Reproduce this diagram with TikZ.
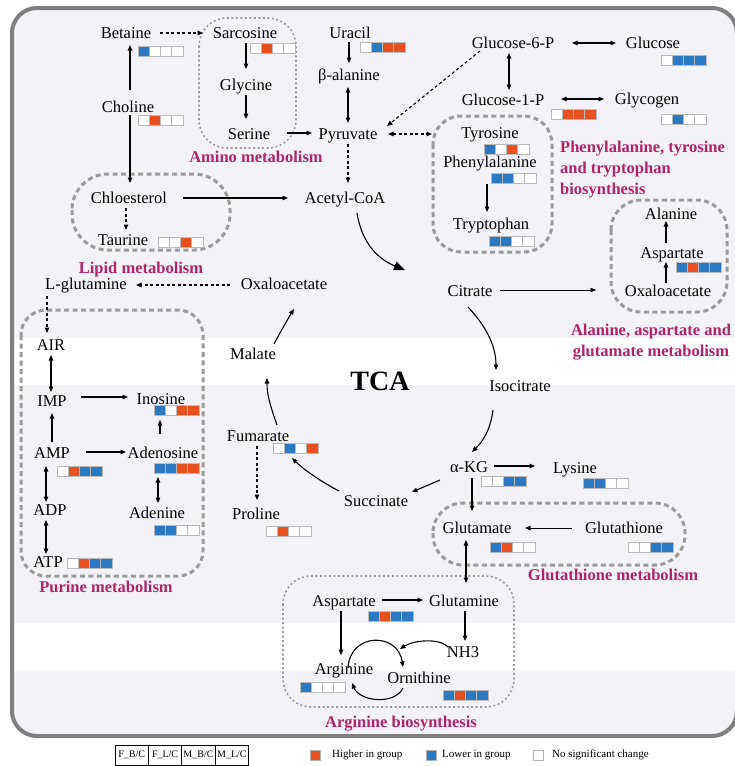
\documentclass[tikz,border=0pt]{standalone}
\usepackage{fontspec}
\setmainfont{Liberation Serif}
\usetikzlibrary{arrows.meta}
\definecolor{cR}{HTML}{E8501F}
\definecolor{cB}{HTML}{2B79C2}
\definecolor{cW}{HTML}{FFFFFF}
\definecolor{bgc}{HTML}{F3F3F7}
\definecolor{framec}{HTML}{7F7F7F}
\definecolor{boxc}{HTML}{9A9A9A}
\definecolor{labc}{HTML}{B0236A}
\newcommand\metbar[5]{%
\begin{scope}[shift={(#1)}]
\filldraw[sq,fill=#2](0,0) rectangle (11.25,10);
\filldraw[sq,fill=#3](11.25,0) rectangle (22.5,10);
\filldraw[sq,fill=#4](22.5,0) rectangle (33.75,10);
\filldraw[sq,fill=#5](33.75,0) rectangle (45,10);
\end{scope}}
\tikzset{
 met/.style={font=\fontsize{16.5}{18}\selectfont, inner sep=1pt, text height=11pt, text depth=3.5pt, anchor=base},
 lab/.style={font=\bfseries\fontsize{16.5}{21}\selectfont, text=labc, inner sep=0pt},
 arr/.style={line width=1.1pt, -{Triangle[length=5.5pt,width=4.5pt]}},
 darr/.style={arr, dash pattern=on 3pt off 2.5pt},
 dbl/.style={line width=1.1pt, {Triangle[length=5.5pt,width=4.5pt]}-{Triangle[length=5.5pt,width=4.5pt]}},
 grpthick/.style={draw=boxc, line width=3pt, dash pattern=on 5pt off 3.5pt, rounded corners=28pt},
 grpthin/.style={draw=boxc, line width=1.6pt, dash pattern=on 2pt off 2.5pt, rounded corners=28pt},
 sq/.style={draw=gray!55, line width=0.6pt},
 legbox/.style={draw, line width=0.8pt, minimum width=33.4pt, minimum height=20pt, inner sep=0pt, font=\fontsize{10}{12}\selectfont},
 legsq/.style={draw=gray!60, line width=0.5pt, minimum size=10pt, inner sep=0pt},
 legtxt/.style={anchor=west, inner sep=0pt, font=\fontsize{11}{13}\selectfont},
}
\begin{document}
\begin{tikzpicture}[x=1pt,y=-1pt]
\useasboundingbox (0,0) rectangle (735,766);
\fill[white] (0,0) rectangle (735,766);
\fill[bgc, rounded corners=25pt] (12,8) rectangle (737,736);
\fill[white] (14,338) rectangle (737,385);
\fill[white] (14,623) rectangle (737,671);
\draw[framec, line width=4pt, rounded corners=25pt] (12,8) rectangle (737,736);

% group boxes
\draw[grpthin] (199,18) rectangle (296,148);
\draw[grpthick, rounded corners=36pt] (72,174) rectangle (230,250);
\draw[grpthick] (433,116) rectangle (552,252);
\draw[grpthick, rounded corners=30pt] (611,200) rectangle (727,312);
\draw[grpthick, rounded corners=25pt] (21,310) rectangle (203,576);
\draw[grpthick, rounded corners=30pt] (433,503) rectangle (685,565);
\draw[grpthin] (283,576) rectangle (514,707);

% metabolite nodes
\node[met] (betaine) at (126,38) {Betaine};
\node[met] (sarcosine) at (245,38) {Sarcosine};
\node[met] (uracil) at (350,38) {Uracil};
\node[met] (g6p) at (513,48) {Glucose-6-P};
\node[met] (glucose) at (653,48) {Glucose};
\node[met] (choline) at (128,112) {Choline};
\node[met] (glycine) at (246,90) {Glycine};
\node[met] (balanine) at (349,80) {β-alanine};
\node[met] (g1p) at (503,105) {Glucose-1-P};
\node[met] (glycogen) at (647,104) {Glycogen};
\node[met] (serine) at (249,139) {Serine};
\node[met] (pyruvate) at (348,139) {Pyruvate};
\node[met] (tyrosine) at (490,138) {Tyrosine};
\node[met] (phenyl) at (490,167) {Phenylalanine};
\node[met] (chol) at (129,203) {Chloesterol};
\node[met] (acetyl) at (345,203) {Acetyl-CoA};
\node[met] (alanine) at (671,219) {Alanine};
\node[met] (trypto) at (491,229) {Tryptophan};
\node[met] (taurine) at (123,245) {Taurine};
\node[met] (aspR) at (672,258) {Aspartate};
\node[met] (lglut) at (86,289) {L-glutamine};
\node[met] (oxaL) at (284,289) {Oxaloacetate};
\node[met] (citrate) at (470,296) {Citrate};
\node[met] (oxaR) at (668,296) {Oxaloacetate};
\node[met] (air) at (51,350) {AIR};
\node[met] (malate) at (253,359) {Malate};
\node[met] (iso) at (520,391) {Isocitrate};
\node[met] (imp) at (52,406) {IMP};
\node[met] (inosine) at (161,404) {Inosine};
\node[met] (fum) at (258,441) {Fumarate};
\node[met] (amp) at (52,458) {AMP};
\node[met] (adenosine) at (163,458) {Adenosine};
\node[met] (akg) at (469,472) {α-KG};
\node[met] (lysine) at (575,473) {Lysine};
\node[met] (succ) at (376,506) {Succinate};
\node[met] (adp) at (50,515) {ADP};
\node[met] (adenine) at (157,518) {Adenine};
\node[met] (proline) at (256,519) {Proline};
\node[met] (glutamate) at (477,533) {Glutamate};
\node[met] (glutathione) at (624,533) {Glutathione};
\node[met] (atp) at (48,567) {ATP};
\node[met] (aspB) at (344,606) {Aspartate};
\node[met] (glutamine) at (464,606) {Glutamine};
\node[met] (nh3) at (463,657) {NH3};
\node[met] (arginine) at (344,674) {Arginine};
\node[met] (ornithine) at (419,683) {Ornithine};
\node[font=\bfseries\fontsize{28}{30}\selectfont, anchor=base, inner sep=0pt] (tca) at (380,390) {TCA};

% group labels
\node[lab, anchor=base] (lamino) at (256,162) {Amino metabolism};
\node[lab, anchor=base] (llipid) at (141,273) {Lipid metabolism};
\node[lab, anchor=west, align=left] (lphe) at (560,170) {Phenylalanine, tyrosine\\and tryptophan\\biosynthesis};
\node[lab, align=center] (lala) at (651,342) {Alanine, aspartate and\\glutamate metabolism};
\node[lab, anchor=base] (lpur) at (106,592) {Purine metabolism};
\node[lab, anchor=base] (lgsh) at (613,580) {Glutathione metabolism};
\node[lab, anchor=base] (larg) at (401,727) {Arginine biosynthesis};

% straight connectors
\draw[darr] ([shift={(34,-5)}]betaine.base) -- ([shift={(-42,-5)}]sarcosine.base);
\draw[arr] ([shift={(2,-22)}]choline.base) -- ([shift={(4,7)}]betaine.base);
\draw[arr] ([shift={(2,3)}]choline.base) -- ([shift={(1,-20)}]chol.base);
\draw[arr] ([shift={(1,5)}]sarcosine.base) -- ([shift={(0,-21)}]glycine.base);
\draw[arr] ([shift={(0,5)}]glycine.base) -- ([shift={(-3,-20)}]serine.base);
\draw[arr] ([shift={(38,-6)}]serine.base) -- ([shift={(-36,-6)}]pyruvate.base);
\draw[arr] ([shift={(-1,4)}]uracil.base) -- ([shift={(0,-17)}]balanine.base);
\draw[dbl] ([shift={(-1,7)}]balanine.base) -- ([shift={(0,-16)}]pyruvate.base);
\draw[darr] ([shift={(0,5)}]pyruvate.base) -- ([shift={(3,-20)}]acetyl.base);
\draw[arr] ([shift={(54,-5)}]chol.base) -- ([shift={(-57,-5)}]acetyl.base);
\draw[darr] ([shift={(-3,5)}]chol.base) -- ([shift={(3,-15)}]taurine.base);
\draw[darr] ([shift={(-54,-4)}]oxaL.base) -- ([shift={(50,-4)}]lglut.base);
\draw[darr] ([shift={(-39,7)}]lglut.base) -- ([shift={(-4,-17)}]air.base);
\draw[dbl] ([shift={(0,5)}]air.base) -- ([shift={(-1,-14)}]imp.base);
\draw[arr] ([shift={(29,-9)}]imp.base) -- ([shift={(-33,-7)}]inosine.base);
\draw[arr] ([shift={(0,-16)}]amp.base) -- ([shift={(0,7)}]imp.base);
\draw[arr] ([shift={(34,-6)}]amp.base) -- ([shift={(-37,-6)}]adenosine.base);
\draw[arr] ([shift={(-3,-24)}]adenosine.base) -- ([shift={(-1,16)}]inosine.base);
\draw[dbl] ([shift={(-5,19)}]adenosine.base) -- ([shift={(1,-15)}]adenine.base);
\draw[dbl] ([shift={(-6,8)}]amp.base) -- ([shift={(-4,-13)}]adp.base);
\draw[dbl] ([shift={(-4,5)}]adp.base) -- ([shift={(-2,-13)}]atp.base);
\draw[darr] ([shift={(-1,5)}]fum.base) -- ([shift={(1,-19)}]proline.base);
\draw[arr, line width=0.5pt] ([shift={(30,-6)}]citrate.base) -- ([shift={(-72,-6)}]oxaR.base);
\draw[arr] ([shift={(-2,-13)}]oxaR.base) -- ([shift={(-6,4)}]aspR.base);
\draw[arr] ([shift={(-6,-15)}]aspR.base) -- ([shift={(-5,2)}]alanine.base);
\draw[dbl] ([shift={(59,-5)}]g6p.base) -- ([shift={(-37,-5)}]glucose.base);
\draw[dbl] ([shift={(-4,5)}]g6p.base) -- ([shift={(6,-15)}]g1p.base);
\draw[dbl] ([shift={(58,-6)}]g1p.base) -- ([shift={(-43,-5)}]glycogen.base);
\draw[darr] ([shift={(-33,3)}]g6p.base) -- ([shift={(39,-13)}]pyruvate.base);
\draw[dbl, dash pattern=on 3pt off 2.5pt] ([shift={(40,-5)}]pyruvate.base) -- ([shift={(-58,-4)}]tyrosine.base);
\draw[arr] ([shift={(-3,17)}]phenyl.base) -- ([shift={(-4,-17)}]trypto.base);
\draw[arr] ([shift={(25,-6)}]akg.base) -- ([shift={(-40,-7)}]lysine.base);
\draw[arr] ([shift={(3,6)}]akg.base) -- ([shift={(-5,-22)}]glutamate.base);
\draw[arr, line width=0.8pt] ([shift={(-52,-5)}]glutathione.base) -- ([shift={(48,-5)}]glutamate.base);
\draw[dbl] ([shift={(-11,7)}]glutamate.base) -- ([shift={(2,-23)}]glutamine.base);
\draw[arr] ([shift={(38,-6)}]aspB.base) -- ([shift={(-41,-6)}]glutamine.base);
\draw[arr] ([shift={(-3,5)}]aspB.base) -- ([shift={(-3,-19)}]arginine.base);
\draw[arr] ([shift={(1,5)}]glutamine.base) -- ([shift={(2,-16)}]nh3.base);

% TCA cycle curves
\draw[line width=1.1pt, -{Triangle[length=11pt,width=9pt]}] ([shift={(12,10)}]acetyl.base) .. controls +(5,32) and +(-25,-10) .. ([shift={(-65,-26)}]citrate.base);
\draw[arr] ([shift={(-2,11)}]citrate.base) .. controls +(17,18) and +(0,-25) .. ([shift={(-24,-21)}]iso.base);
\draw[arr] ([shift={(-27,19)}]iso.base) .. controls +(-3,22) and +(10,-10) .. ([shift={(3,-20)}]akg.base);
\draw[arr] ([shift={(-29,8)}]akg.base) -- ([shift={(36,-14)}]succ.base);
\draw[arr] ([shift={(-37,-15)}]succ.base) .. controls +(-21,-11) and +(10,10) .. ([shift={(34,17)}]fum.base);
\draw[arr] ([shift={(19,-16)}]fum.base) .. controls +(-7,-20) and +(0,17) .. ([shift={(14,19)}]malate.base);
\draw[arr] ([shift={(21,-15)}]malate.base) .. controls +(8,-15) and +(-5,8) .. ([shift={(10,20)}]oxaL.base);

% arginine / ornithine cycle
\draw[arr] ([shift={(-15,-10)}]nh3.base) .. controls +(-10,-10) and +(12,-8) .. ([shift={(-19,-34)}]ornithine.base);
\draw[arr] ([shift={(4,-6)}]arginine.base) .. controls +(2,-36) and +(-5,-35) .. ([shift={(-16,-16)}]ornithine.base);
\draw[arr] ([shift={(-16,5)}]ornithine.base) .. controls +(-8,17) and +(8,19) .. ([shift={(8,9)}]arginine.base);

% change bars
\metbar{138,46}{cB}{cW}{cW}{cW}
\metbar{250,43}{cW}{cR}{cW}{cW}
\metbar{360,42}{cW}{cB}{cR}{cR}
\metbar{661,55}{cW}{cB}{cB}{cB}
\metbar{138,115}{cW}{cR}{cW}{cW}
\metbar{551,109}{cW}{cR}{cR}{cR}
\metbar{661,114}{cW}{cB}{cW}{cW}
\metbar{484,144}{cB}{cW}{cR}{cW}
\metbar{491,173}{cB}{cB}{cW}{cW}
\metbar{158,237}{cW}{cW}{cR}{cW}
\metbar{489,236}{cB}{cB}{cW}{cW}
\metbar{676,262}{cB}{cR}{cB}{cB}
\metbar{154,405}{cB}{cW}{cR}{cR}
\metbar{57,466}{cW}{cR}{cB}{cB}
\metbar{154,463}{cB}{cB}{cR}{cR}
\metbar{273,443}{cW}{cB}{cW}{cR}
\metbar{154,525}{cB}{cB}{cW}{cW}
\metbar{266,526}{cW}{cR}{cW}{cW}
\metbar{481,476}{cW}{cW}{cB}{cB}
\metbar{583,478}{cB}{cB}{cW}{cW}
\metbar{490,542}{cB}{cR}{cW}{cW}
\metbar{628,542}{cW}{cW}{cB}{cB}
\metbar{67,558}{cW}{cR}{cB}{cB}
\metbar{368,611}{cB}{cR}{cB}{cB}
\metbar{300,682}{cB}{cW}{cW}{cW}
\metbar{443,690}{cB}{cR}{cB}{cB}

% legend
\node[legbox] (lg1) at (131.7,755) {F\_B/C};
\node[legbox] (lg2) at (165.1,755) {F\_L/C};
\node[legbox] (lg3) at (198.5,755) {M\_B/C};
\node[legbox] (lg4) at (231.9,755) {M\_L/C};
\node[legsq, fill=cR] (lsr) at (315,755) {};
\node[legtxt] (ltr) at (332,755) {Higher in group};
\node[legsq, fill=cB] (lsb) at (431,755) {};
\node[legtxt] (ltb) at (442,755) {Lower in group};
\node[legsq, fill=white] (lsw) at (538,755) {};
\node[legtxt] (ltw) at (552,755) {No significant change};
\end{tikzpicture}
\end{document}
